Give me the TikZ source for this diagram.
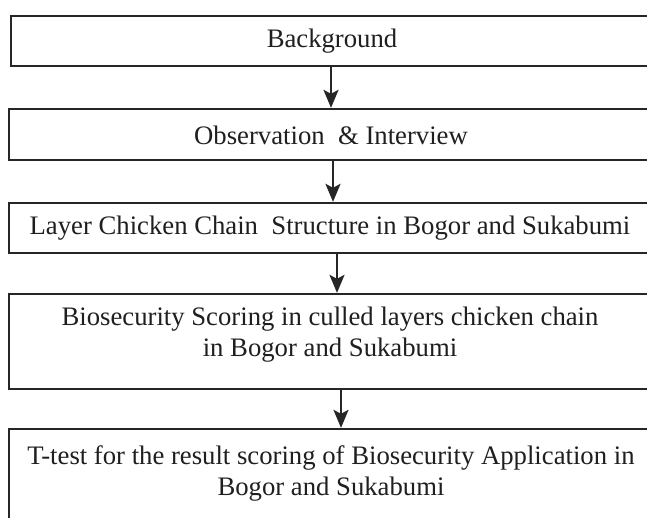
\documentclass[tikz,border=0pt]{standalone}
\usepackage{fontspec}
\setmainfont{Liberation Serif}
\usetikzlibrary{arrows.meta}
\begin{document}
\begin{tikzpicture}[x=1pt,y=-1pt,
  box/.style={draw=black!85, line width=2.3pt, rectangle, inner sep=0pt},
  txt/.style={align=center, inner sep=0pt, font=\fontsize{26.7}{31}\selectfont, text=black!88},
  arr/.style={line width=2.3pt, draw=black!85, -{Stealth[length=18pt,width=15pt,inset=4pt]}}]
\clip (0,0) rectangle (647,518);
\fill[white] (0,0) rectangle (647,518);
% boxes
\node[box, minimum width=640pt, minimum height=50pt] (b1) at (331,41) {};
\node[box, minimum width=642pt, minimum height=51pt] (b2) at (330,134.5) {};
\node[box, minimum width=642pt, minimum height=50pt] (b3) at (330,228) {};
\node[box, minimum width=642pt, minimum height=95pt] (b4) at (330,341.5) {};
\node[box, minimum width=642pt, minimum height=110pt] (b5) at (330,484) {};
% texts
\node[txt] (t1) at (332,41) {Background};
\node[txt] (t2) at (331,135) {Observation\ \ \& Interview};
\node[txt] (t3) at (330,228) {Layer Chicken Chain\ \ Structure in Bogor and Sukabumi};
\node[txt] (t4) at (330,335) {Biosecurity Scoring in culled layers chicken chain\\in Bogor and Sukabumi};
\node[txt] (t5) at (331,473) {T-test for the result scoring of Biosecurity Application in\\Bogor and Sukabumi};
% arrows
\draw[arr] (b1.south) -- (b2.north -| b1.south);
\draw[arr] ([xshift=3pt]b2.south) -- ([xshift=3pt]b3.north);
\draw[arr] ([xshift=7pt]b3.south) -- ([xshift=7pt]b4.north);
\draw[arr] ([xshift=11pt]b4.south) -- ([xshift=11pt]b5.north);
\end{tikzpicture}
\end{document}
